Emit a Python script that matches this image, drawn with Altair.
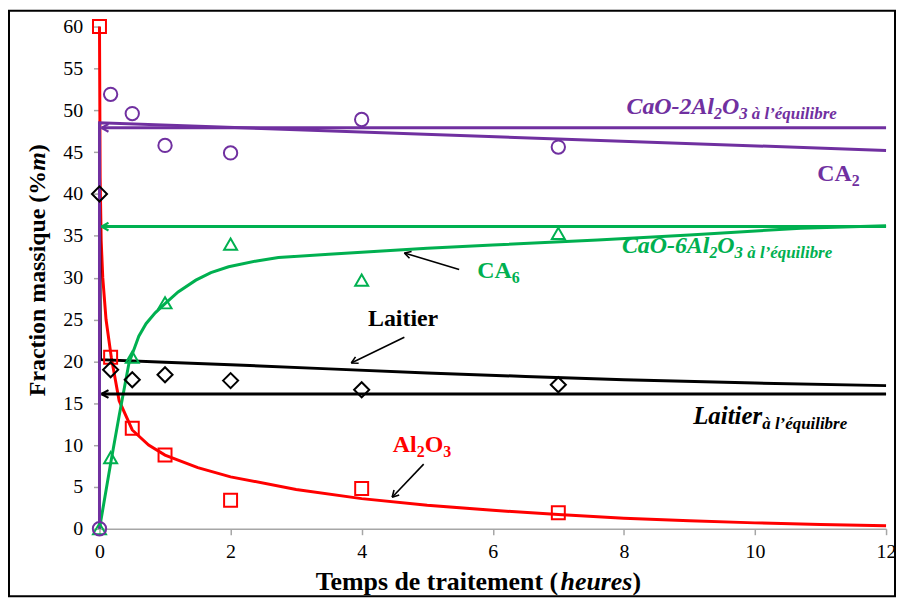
import math
import altair as alt
import pandas as pd

# ---------------- data ----------------
t_points = [0, 0.17, 0.5, 1, 2, 4, 7]
al2o3_pts = [60, 20.5, 12.0, 8.8, 3.4, 4.8, 1.9]
ca2_pts = [0, 51.9, 49.6, 45.8, 44.9, 48.9, 45.6]
ca6_pts = [0, 8.5, 20.5, 27.0, 34.0, 29.7, 35.3]
laitier_pts = [40, 19.0, 17.8, 18.4, 17.7, 16.6, 17.2]

al2o3_curve_t = [0, 0.01, 0.026, 0.05, 0.1, 0.18, 0.3, 0.5, 0.75, 1, 1.5, 2, 3, 4, 5, 6, 7, 8, 9, 10, 11, 12]
al2o3_curve = [60, 42, 34.4, 30, 25, 20.5, 15.3, 11.8, 10.0, 8.8, 7.3, 6.2, 4.7, 3.6, 2.8, 2.2, 1.7, 1.25, 0.95, 0.7, 0.5, 0.35]

ca6_curve_t = [0, 0.17, 0.3, 0.45, 0.6, 0.71, 0.85, 1.0, 1.2, 1.47, 1.7, 1.97, 2.4, 2.73, 3.5, 5, 6, 7.6, 9, 10.7, 12]
ca6_curve = [0, 7.8, 13.5, 19.8, 23.0, 24.5, 25.8, 26.9, 28.3, 29.7, 30.6, 31.3, 32.0, 32.4, 32.8, 33.5, 33.9, 34.5, 35.1, 35.9, 36.2]

ca2_curve_t = [0, 0, 12]
ca2_curve = [0, 48.5, 45.2]

laitier_curve_t = [0, 0.015, 1, 2, 3.5, 5, 6.5, 8, 10, 12]
laitier_curve = [40, 20.2, 19.9, 19.6, 19.1, 18.6, 18.2, 17.8, 17.4, 17.1]

eq_levels = {"CA2": 47.9, "CA6": 36.1, "Laitier": 16.1}

x_ticks = [0, 2, 4, 6, 8, 10, 12]
y_ticks = list(range(0, 61, 5))

# ---------------- style ----------------
RED, PURPLE, GREEN, BLACK = "#FF0000", "#7030A0", "#00B050", "#000000"
FONT = "Liberation Serif"
W, H = 791, 505
PX_X, PX_Y = W / 12, H / 60

W_B = {" ": 250, "%": 1000, "(": 333, ")": 333, "-": 333, "2": 500, "3": 500, "6": 500,
       "A": 722, "C": 722, "F": 611, "L": 667, "O": 778, "T": 667, "a": 500, "c": 444,
       "d": 556, "e": 444, "h": 556, "i": 278, "l": 278, "m": 833, "n": 556, "o": 500,
       "p": 556, "q": 556, "r": 444, "s": 389, "t": 333, "u": 556}
W_BI = {" ": 250, "(": 333, ")": 333, "-": 333, "2": 500, "3": 500, "6": 500, "A": 667,
        "C": 667, "L": 611, "O": 722, "a": 500, "b": 500, "e": 444, "é": 444, "à": 500,
        "h": 556, "i": 278, "l": 278, "m": 778, "q": 500, "’": 333, "r": 389, "s": 389,
        "t": 278, "u": 556}


def tw(s, style, size):
    table = W_B if style == "B" else W_BI
    return sum(table.get(c, 500) for c in s) * size / 1000.0


X_SCALE = alt.Scale(domain=[0, 12], nice=False, zero=False)
Y_SCALE = alt.Scale(domain=[0, 60], nice=False, zero=False)
X_AXIS = alt.Axis(values=x_ticks, title=None, grid=False, labelFont=FONT,
                  labelFontSize=20, labelColor="#000000", domainColor="#a6a6a6",
                  tickColor="#a6a6a6", tickSize=6, labelPadding=7, domainWidth=1.5,
                  tickWidth=1.5, labelFlush=False)
Y_AXIS = alt.Axis(values=y_ticks, title=None, grid=False, labelFont=FONT,
                  labelFontSize=20, labelColor="#000000", domainColor="#a6a6a6",
                  tickColor="#a6a6a6", tickSize=6, labelPadding=11, domainWidth=1.5,
                  tickWidth=1.5, labelFlush=False)


def X(field="x"):
    return alt.X(f"{field}:Q", scale=X_SCALE, axis=X_AXIS)


def Y(field="y"):
    return alt.Y(f"{field}:Q", scale=Y_SCALE, axis=Y_AXIS)


def curve(ts, ys, color, width=3):
    df = pd.DataFrame({"x": ts, "y": ys, "i": range(len(ts))})
    return alt.Chart(df).mark_line(color=color, strokeWidth=width).encode(x=X(), y=Y(), order="i:Q")


def pts(ys, color, shape, size=190):
    df = pd.DataFrame({"x": t_points, "y": ys})
    return alt.Chart(df).mark_point(shape=shape, color=color, filled=False, strokeWidth=2,
                                     size=size, opacity=1).encode(x=X(), y=Y())


layers = []

# equilibrium lines with arrows (pointing to t = 0)
eq_colors = {"CA2": PURPLE, "CA6": GREEN, "Laitier": BLACK}
eq_rows = [{"x": 12, "x2": 0.03, "y": v, "color": eq_colors[k]} for k, v in eq_levels.items()]
eq_df = pd.DataFrame(eq_rows)

layers.append(curve(al2o3_curve_t, al2o3_curve, RED))
layers.append(curve(laitier_curve_t, laitier_curve, BLACK))
layers.append(curve(ca6_curve_t, ca6_curve, GREEN))
layers.append(alt.Chart(eq_df).mark_rule(strokeWidth=3).encode(
    x=X(), x2="x2:Q", y=Y(), color=alt.Color("color:N", scale=None)))
layers.append(curve(ca2_curve_t, ca2_curve, PURPLE))

ARROW = "M0,0L1,-0.55M0,0L1,0.55"
layers.append(alt.Chart(eq_df).mark_point(shape=ARROW, filled=False, strokeWidth=2.2,
                                          size=200, opacity=1).encode(
    x=X("x2"), y=Y(), color=alt.Color("color:N", scale=None)))

# points
layers.append(pts(al2o3_pts, RED, "square", 170))
layers.append(pts(laitier_pts, BLACK, "diamond", 230))
layers.append(pts(ca6_pts, GREEN, "triangle-up", 170))
layers.append(pts(ca2_pts, PURPLE, "circle", 180))

# annotation arrows (tail -> tip, in data units)
arrows = [
    {"x": 5.487, "y": 30.97, "xt": 4.651, "yt": 32.95},   # CA6
    {"x": 4.651, "y": 22.89, "xt": 3.841, "yt": 19.81},   # Laitier
    {"x": 4.946, "y": 7.72, "xt": 4.465, "yt": 3.77},     # Al2O3
]
for a in arrows:
    dxp = (a["x"] - a["xt"]) * PX_X
    dyp = -(a["y"] - a["yt"]) * PX_Y
    a["angle"] = math.degrees(math.atan2(dyp, dxp)) % 360
arr_df = pd.DataFrame(arrows)
layers.append(alt.Chart(arr_df).mark_rule(color=BLACK, strokeWidth=1.6).encode(
    x=X(), y=Y(), x2="xt:Q", y2="yt:Q"))
layers.append(alt.Chart(arr_df).mark_point(shape=ARROW, filled=False, strokeWidth=1.6,
                                           size=170, color=BLACK, opacity=1).encode(
    x=X("xt"), y=Y("yt"), angle=alt.Angle("angle:Q", scale=None)))

# rich-text annotations
annotations = [
    (PURPLE, 8.04, 49.54, [("BI", 24, "CaO-2Al", 0), ("BI", 16, "2", 5), ("BI", 24, "O", 0), ("BI", 17, "3 à l’équilibre", 5)]),
    (PURPLE, 10.95, 41.58, [("B", 24, "CA", 0), ("B", 16, "2", 5)]),
    (GREEN, 7.97, 32.9, [("BI", 24, "CaO-6Al", 0), ("BI", 16, "2", 5), ("BI", 24, "O", 0), ("BI", 17, "3 à l’équilibre", 5)]),
    (GREEN, 5.765, 29.94, [("B", 24, "CA", 0), ("B", 16, "6", 5)]),
    (BLACK, 4.096, 24.24, [("B", 24, "Laitier", 0)]),
    (BLACK, 9.057, 12.48, [("BI", 25, "Laitier", 0), ("BI", 17, " à l’équilibre", 5)]),
    (RED, 4.475, 9.15, [("B", 24, "Al", 0), ("B", 16, "2", 5), ("B", 24, "O", 0), ("B", 16, "3", 5)]),
]
rows = []
for color, x0, y0, pieces in annotations:
    cum = 0.0
    for style, size, text, drop in pieces:
        rows.append({"x": x0 + cum / PX_X, "y": y0 - drop / PX_Y, "text": text,
                     "size": size, "color": color, "style": style})
        cum += tw(text, style, size)
ann_df = pd.DataFrame(rows)
for style, fstyle in (("B", "normal"), ("BI", "italic")):
    sub = ann_df[ann_df["style"] == style]
    layers.append(alt.Chart(sub).mark_text(font=FONT, fontWeight="bold", fontStyle=fstyle,
                                           align="left", baseline="alphabetic").encode(
        x=X(), y=Y(), text="text:N", size=alt.Size("size:Q", scale=None),
        color=alt.Color("color:N", scale=None)))

# axis titles (mixed bold / bold-italic)
one = pd.DataFrame({"a": [0]})
xt_pieces = [("B", "Temps de traitement ("), ("BI", "heures"), ("B", ")")]
xt_size = 26
total = sum(tw(t, s, xt_size) for s, t in xt_pieces)
cx = 381 - total / 2
for s, t in xt_pieces:
    layers.append(alt.Chart(one).mark_text(font=FONT, fontWeight="bold",
                                           fontStyle="italic" if s == "BI" else "normal",
                                           fontSize=xt_size, align="left", baseline="alphabetic",
                                           color=BLACK, text=t).encode(
        x=alt.value(cx), y=alt.value(567)))
    cx += tw(t, s, xt_size)

yt_pieces = [("B", "Fraction massique (%"), ("BI", "m"), ("B", ")")]
yt_size = 24
total = sum(tw(t, s, yt_size) for s, t in yt_pieces)
cy = 245 + total / 2
for s, t in yt_pieces:
    layers.append(alt.Chart(one).mark_text(font=FONT, fontWeight="bold",
                                           fontStyle="italic" if s == "BI" else "normal",
                                           fontSize=yt_size, align="left", baseline="alphabetic",
                                           angle=270, color=BLACK, text=t).encode(
        x=alt.value(-55), y=alt.value(cy)))
    cy -= tw(t, s, yt_size)

# outer frame
layers.append(alt.Chart(one).mark_rect(fill="transparent", stroke="#000000", strokeWidth=2).encode(
    x=alt.value(-91), x2=alt.value(800), y=alt.value(-16), y2=alt.value(573)))

chart = alt.layer(*layers).properties(
    width=W, height=H, autosize="none", background="white",
    padding={"left": 92, "top": 17, "right": 10, "bottom": 72},
).configure_view(stroke="transparent", strokeWidth=0, strokeOpacity=0, fill="white")

chart.save("out.html", embed_options={"renderer": "svg", "actions": False})
